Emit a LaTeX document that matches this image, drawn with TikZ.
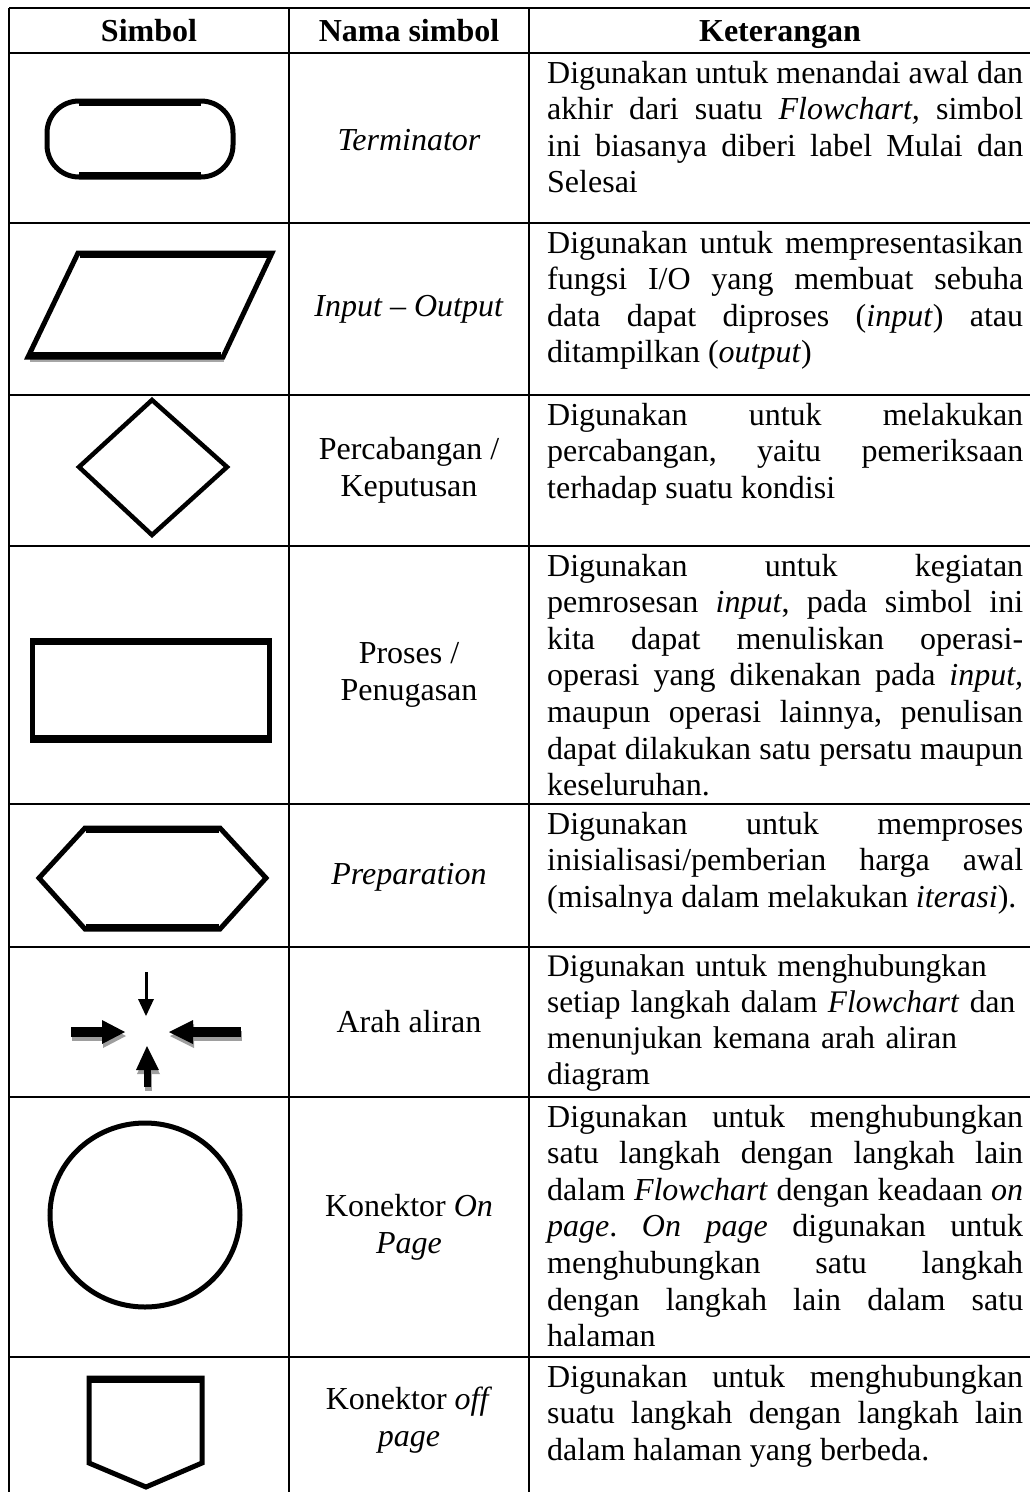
\documentclass[tikz,border=0pt]{standalone}
\usepackage{fontspec}
\setmainfont{Liberation Serif}
\newcommand\cellsetup{\fontsize{32}{36.6}\selectfont\frenchspacing\hyphenpenalty=10000\relax\tolerance=10000\relax\hbadness=10000\relax}
\newcommand\cellsetupsmall{\fontsize{31.4}{36.3}\selectfont\frenchspacing\hyphenpenalty=10000\relax}
\begin{document}
\begin{tikzpicture}[x=1pt,y=-1pt,
  tablerule/.style={line width=1.4pt, black},
  symline/.style={line width=5pt, black, line join=miter},
  hedge/.style={line width=7.5pt, black},
  arrowshade/.style={fill=black!38},
  arrowbody/.style={fill=black},
  celltext/.style={inner sep=0pt, font=\cellsetup},
  desccell/.style={celltext, anchor=base west, text width=476pt, align=justify},
  descleft/.style={inner sep=0pt, font=\cellsetupsmall, anchor=base west, text width=478pt, align=left},
  namecell/.style={celltext, align=center},
  headcell/.style={inner sep=0pt, anchor=base, font=\cellsetup\bfseries},
]
\useasboundingbox (0,0) rectangle (1030,1492);

% ---- table grid ----
\foreach \y in {8,53,223,395,546,804,947,1097,1357}
  \draw[tablerule] (9,\y) -- (1030,\y);
\foreach \x in {9,289,529}
  \draw[tablerule] (\x,8) -- (\x,1492);

% ---- header ----
\node[headcell] (hsym) at (149,41) {Simbol};
\node[headcell] (hname) at (409,41) {Nama simbol};
\node[headcell] (hdesc) at (780,41) {Keterangan};

% ---- symbol column ----
% terminator
\draw[symline, rounded corners=32pt] (47,101) rectangle (233,177);
\draw[hedge] (79,102.3) -- (201,102.3);
\draw[hedge] (79,175.7) -- (201,175.7);

% input / output
\draw[black!35, line width=3pt] (30,360) -- (224,360);
\draw[symline] (78,253) -- (272,253) -- (223,357) -- (28,357) -- cycle;
\draw[hedge, shorten <=2pt, shorten >=2pt] (78,254.3) -- (272,254.3);
\draw[hedge, shorten <=2pt, shorten >=2pt] (28,355.7) -- (223,355.7);

% decision
\draw[symline, line width=4.5pt] (152,400) -- (227,467) -- (152,535) -- (79,467) -- cycle;

% process
\draw[symline] (32,640) rectangle (269,740);
\draw[hedge] (32,641.3) -- (269,641.3);
\draw[hedge] (32,738.7) -- (269,738.7);

% preparation
\draw[symline] (85,828) -- (220,828) -- (266,878) -- (220,929) -- (85,929) -- (39,878) -- cycle;
\draw[hedge, shorten <=1pt, shorten >=1pt] (85,829.3) -- (220,829.3);
\draw[hedge, shorten <=1pt, shorten >=1pt] (85,927.7) -- (220,927.7);

% flow direction arrows
\fill[arrowbody] (144.5,972) rectangle (147.5,1000);
\fill[arrowbody] (138,999) -- (154,999) -- (146,1016) -- cycle;
\begin{scope}[shift={(1,4)}]
  \fill[arrowshade] (71,1027) rectangle (103,1037);
  \fill[arrowshade] (102,1020) -- (125,1032) -- (102,1044) -- cycle;
  \fill[arrowshade] (192,1027) rectangle (241,1037);
  \fill[arrowshade] (193,1020) -- (169,1032) -- (193,1044) -- cycle;
  \fill[arrowshade] (143.5,1069) rectangle (150.5,1087);
  \fill[arrowshade] (136,1070) -- (147,1046) -- (159,1070) -- cycle;
\end{scope}
\fill[arrowbody] (71,1027) rectangle (103,1037);
\fill[arrowbody] (102,1020) -- (125,1032) -- (102,1044) -- cycle;
\fill[arrowbody] (192,1027) rectangle (241,1037);
\fill[arrowbody] (193,1020) -- (169,1032) -- (193,1044) -- cycle;
\fill[arrowbody] (143.5,1069) rectangle (150.5,1087);
\fill[arrowbody] (136,1070) -- (147,1046) -- (159,1070) -- cycle;

% on-page connector
\draw[symline] (145,1215) ellipse [x radius=95, y radius=92];

% off-page connector
\draw[symline] (89,1378) -- (202,1378) -- (202,1463) -- (146,1487) -- (89,1463) -- cycle;
\draw[hedge] (89,1379.3) -- (202,1379.3);

% ---- name column ----
\node[namecell] (n1) at (409,140) {\textit{Terminator}};
\node[namecell] (n2) at (409,309) {\textit{Input -- Output}};
\node[namecell] (n3) at (409,470) {Percabangan /\\Keputusan};
\node[namecell] (n4) at (409,675) {Proses /\\Penugasan};
\node[namecell] (n5) at (409,877) {\textit{Preparation}};
\node[namecell] (n6) at (409,1022) {Arah aliran};
\node[namecell] (n7) at (409,1227) {Konektor \textit{On}\\\textit{Page}};
\node[namecell] (n8) at (409,1420) {Konektor \textit{off}\\\textit{page}};

% ---- description column ----
\node[desccell] (d1) at (547,83) {Digunakan untuk menandai awal dan\linebreak
akhir dari suatu \textit{Flowchart,} simbol\linebreak
ini biasanya diberi label Mulai dan\linebreak
Selesai};
\node[desccell] (d2) at (547,253) {Digunakan untuk mempresentasikan\linebreak
fungsi I/O yang membuat sebuha\linebreak
data dapat diproses (\textit{input}) atau\linebreak
ditampilkan (\textit{output})};
\node[desccell] (d3) at (547,425) {Digunakan untuk melakukan\linebreak
percabangan, yaitu pemeriksaan\linebreak
terhadap suatu kondisi};
\node[desccell] (d4) at (547,576) {Digunakan untuk kegiatan\linebreak
pemrosesan \textit{input}, pada simbol ini\linebreak
kita dapat menuliskan operasi-\linebreak
operasi yang dikenakan pada \textit{input,}\linebreak
maupun operasi lainnya, penulisan\linebreak
dapat dilakukan satu persatu maupun\linebreak
keseluruhan.};
\node[desccell] (d5) at (547,834) {Digunakan untuk memproses\linebreak
inisialisasi/pemberian harga awal\linebreak
(misalnya dalam melakukan \textit{iterasi}).};
\node[descleft] (d6) at (547,976) {Digunakan untuk menghubungkan\\
setiap langkah dalam \textit{Flowchart} dan\\
menunjukan kemana arah aliran\\
diagram};
\node[desccell] (d7) at (547,1127) {Digunakan untuk menghubungkan\linebreak
satu langkah dengan langkah lain\linebreak
dalam \textit{Flowchart} dengan keadaan \textit{on}\linebreak
\textit{page}. \textit{On page} digunakan untuk\linebreak
menghubungkan satu langkah\linebreak
dengan langkah lain dalam satu\linebreak
halaman};
\node[desccell] (d8) at (547,1387) {Digunakan untuk menghubungkan\linebreak
suatu langkah dengan langkah lain\linebreak
dalam halaman yang berbeda.};
\end{tikzpicture}
\end{document}
